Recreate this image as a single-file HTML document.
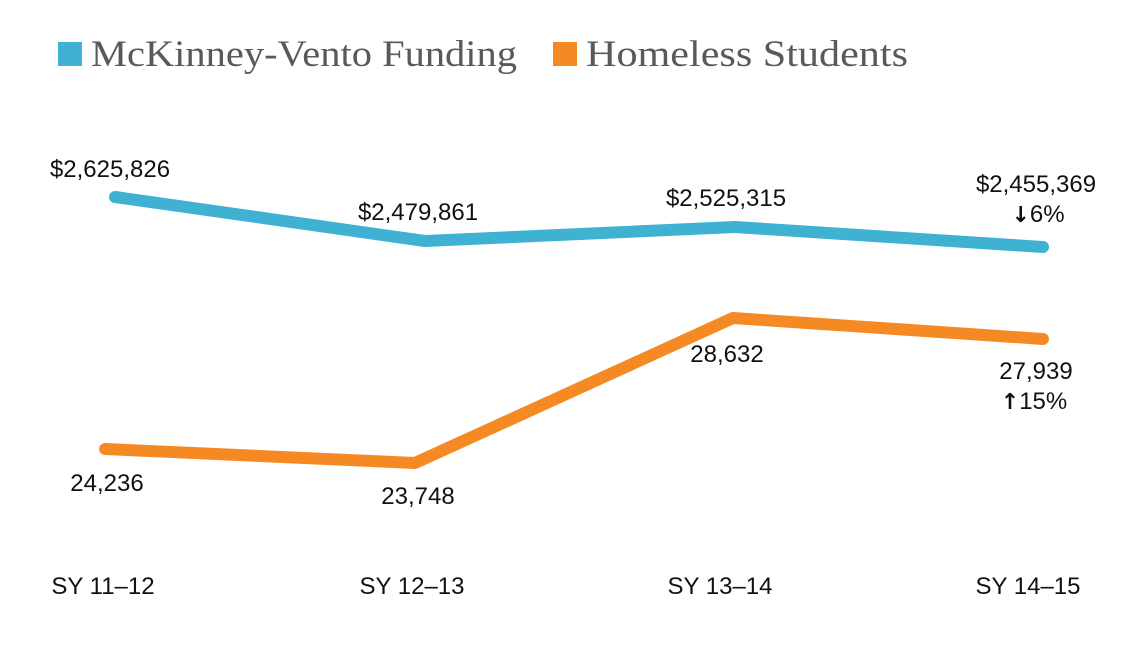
<!DOCTYPE html>
<html><head><meta charset="utf-8"><style>
html,body{margin:0;padding:0;background:#fff;}
svg{display:block;}
.l{font-family:"Liberation Sans",sans-serif;font-size:24px;fill:#111;text-anchor:middle;}
.a{font-family:"DejaVu Sans",sans-serif;font-weight:bold;font-size:22px;}
.g{font-family:"Liberation Serif",serif;font-size:37px;fill:#58595b;}
</style></head><body>
<svg width="1135" height="668" viewBox="0 0 1135 668" xmlns="http://www.w3.org/2000/svg">
<rect x="58" y="42" width="24" height="24" fill="#3fb1d2"/>
<text class="g" x="91" y="66" textLength="426" lengthAdjust="spacingAndGlyphs">McKinney-Vento Funding</text>
<rect x="553" y="42" width="24" height="24" fill="#f58a24"/>
<text class="g" x="586" y="66" textLength="322" lengthAdjust="spacingAndGlyphs">Homeless Students</text>
<polyline points="115,197 425,241 735,227 1043,247" fill="none" stroke="#3fb1d2" stroke-width="12" stroke-linecap="round" stroke-linejoin="round"/>
<polyline points="105,449 415,463 733,318 1043,339" fill="none" stroke="#f58a24" stroke-width="12" stroke-linecap="round" stroke-linejoin="round"/>
<text class="l" x="110" y="177">$2,625,826</text>
<text class="l" x="418" y="220">$2,479,861</text>
<text class="l" x="726" y="206">$2,525,315</text>
<text class="l" x="1036" y="192">$2,455,369</text>
<text class="l" x="1038" y="222"><tspan class="a">↓</tspan>6%</text>
<text class="l" x="727" y="362">28,632</text>
<text class="l" x="1036" y="379">27,939</text>
<text class="l" x="1034" y="409"><tspan class="a">↑</tspan>15%</text>
<text class="l" x="107" y="491">24,236</text>
<text class="l" x="418" y="504">23,748</text>
<text class="l" x="103" y="594">SY 11–12</text>
<text class="l" x="412" y="594">SY 12–13</text>
<text class="l" x="720" y="594">SY 13–14</text>
<text class="l" x="1028" y="594">SY 14–15</text>
</svg>
</body></html>
